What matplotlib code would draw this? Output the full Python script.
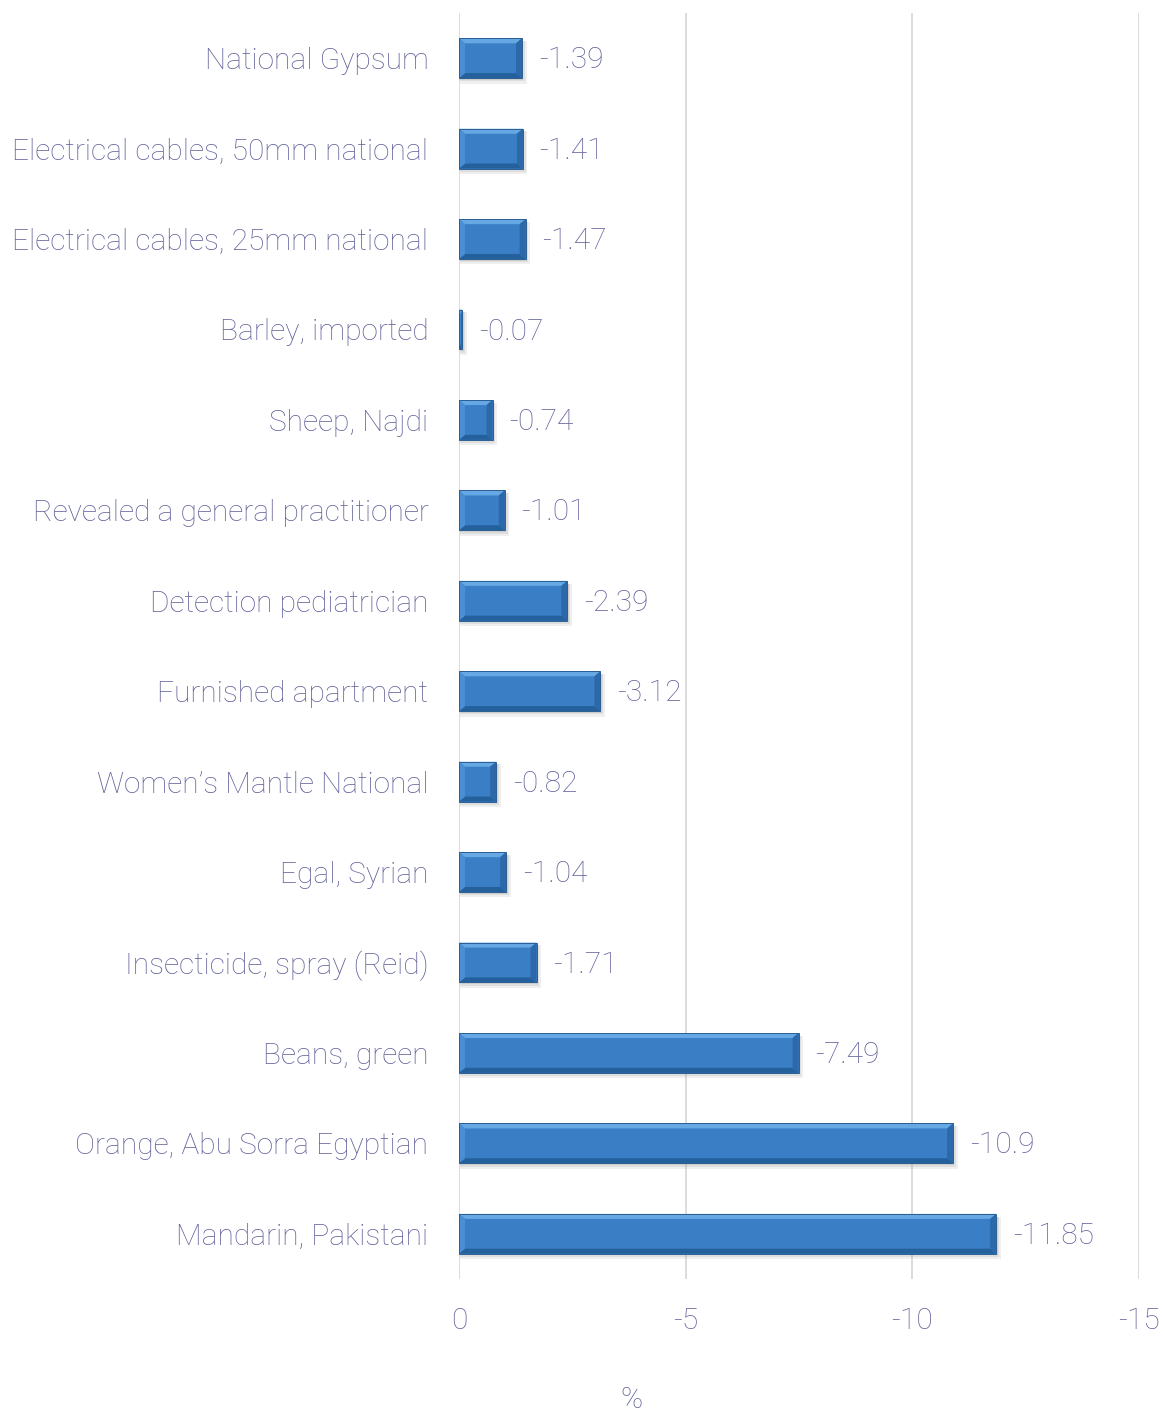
import numpy as np
import matplotlib.pyplot as plt
from matplotlib.patches import Polygon

categories = [
    "National Gypsum",
    "Electrical cables, 50mm national",
    "Electrical cables, 25mm national",
    "Barley, imported",
    "Sheep, Najdi",
    "Revealed a general practitioner",
    "Detection pediatrician",
    "Furnished apartment",
    "Women\u2019s Mantle National",
    "Egal, Syrian",
    "Insecticide, spray (Reid)",
    "Beans, green",
    "Orange, Abu Sorra Egyptian",
    "Mandarin, Pakistani",
]
values = [-1.39, -1.41, -1.47, -0.07, -0.74, -1.01, -2.39, -3.12, -0.82, -1.04, -1.71, -7.49, -10.9, -11.85]
value_labels = ["-1.39", "-1.41", "-1.47", "-0.07", "-0.74", "-1.01", "-2.39", "-3.12", "-0.82",
                "-1.04", "-1.71", "-7.49", "-10.9", "-11.85"]
xticks = [0, -5, -10, -15]

TXT = "#62629C"
FS = 21.5
plt.rcParams["font.family"] = ["Roboto", "DejaVu Sans"]

fig = plt.figure(figsize=(11.65, 14.14), dpi=100)
ax = fig.add_axes([459 / 1165, 1 - 1279 / 1414, 680 / 1165, 1266 / 1414])

y = np.arange(len(categories))
bars = ax.barh(y, values, height=0.44, color="#3A7EC6", zorder=3)
ax.set_xlim(0, -15)
ax.set_ylim(len(categories) - 0.5, -0.5)

# bevel look: light top edge, dark bottom edge, shaded ends, soft shadow
bx = 6 / 45.33
by = 5 / 90.46
for r in bars:
    lo = min(r.get_x(), r.get_x() + r.get_width())
    hi = max(r.get_x(), r.get_x() + r.get_width())
    yt = r.get_y()
    yb = yt + r.get_height()
    ex = min(bx, (hi - lo) / 2)
    # shadow (screen right/down = more negative x, larger y)
    for k, a in [(0.10, 0.15), (0.06, 0.2), (0.03, 0.25)]:
        ax.add_patch(Polygon([(hi - 0.02, yt + 0.03), (lo - k, yt + 0.03), (lo - k, yb + k * 0.6),
                              (hi - 0.02, yb + k * 0.6)], closed=True, color="#9A9A9A",
                             alpha=a, lw=0, zorder=2))
    ax.add_patch(Polygon([(hi, yt), (lo, yt), (lo + ex, yt + by), (hi - ex, yt + by)],
                         closed=True, color="#65A8E4", lw=0, zorder=4))
    ax.add_patch(Polygon([(hi, yb), (lo, yb), (lo + ex, yb - by), (hi - ex, yb - by)],
                         closed=True, color="#23609C", lw=0, zorder=4))
    ax.add_patch(Polygon([(lo, yt), (lo, yb), (lo + ex, yb - by), (lo + ex, yt + by)],
                         closed=True, color="#2D68A8", lw=0, zorder=4))
    ax.add_patch(Polygon([(hi, yt), (hi, yb), (hi - ex, yb - by), (hi - ex, yt + by)],
                         closed=True, color="#4A8FD3", lw=0, zorder=4))
    ax.add_patch(Polygon([(hi, yt), (lo, yt), (lo, yb), (hi, yb)], closed=True, fill=False,
                         ec="#2A5F94", lw=0.7, zorder=5))

for yi, v, lab in zip(y, values, value_labels):
    ax.annotate(lab, (v, yi), xytext=(12, -1.5), textcoords="offset points", va="center",
                ha="left", color=TXT, fontsize=FS, fontweight="light", zorder=6)

ax.set_yticks(y)
ax.set_yticklabels(categories)
ax.set_xticks(xticks)
ax.set_xticklabels([str(t) for t in xticks])
ax.tick_params(axis="y", length=0, pad=22, labelsize=FS, labelcolor=TXT)
ax.tick_params(axis="x", length=0, pad=20, labelsize=FS, labelcolor=TXT)
for lab in ax.get_xticklabels() + ax.get_yticklabels():
    lab.set_fontweight("light")
ax.grid(axis="x", color="#D9D9D9", lw=1.3, zorder=0)
for s in ax.spines.values():
    s.set_visible(False)

fig.text(632 / 1165, 1 - 1400 / 1414, "%", ha="center", va="center", color=TXT, fontsize=FS,
         fontweight="light")

fig.savefig("out.png", dpi=100)
